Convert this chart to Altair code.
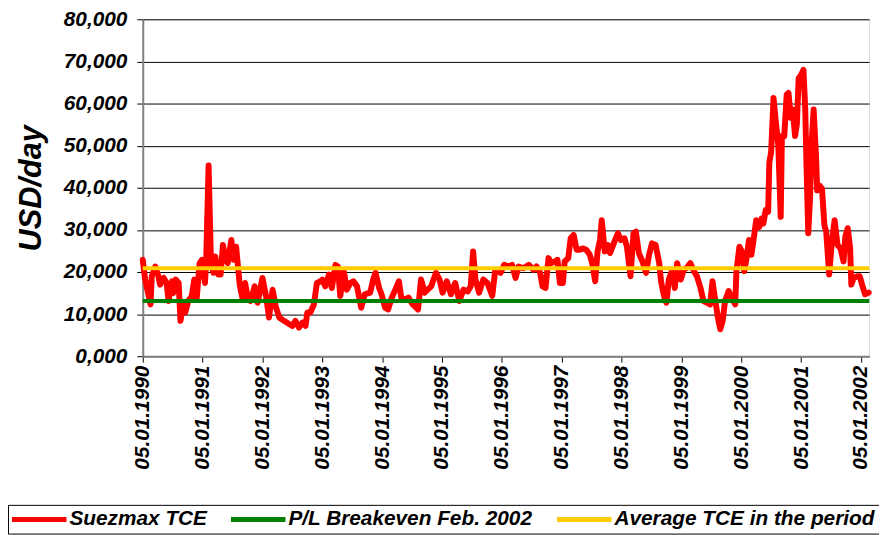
import altair as alt
import pandas as pd

# ---- data (decimal year of point, USD/day) ----
tce_years = [
    1990.00, 1990.04, 1990.10, 1990.13, 1990.15, 1990.21, 1990.26, 1990.29, 1990.35, 1990.40,
    1990.43, 1990.49, 1990.51, 1990.55, 1990.60, 1990.63, 1990.68, 1990.71, 1990.76, 1990.82,
    1990.86, 1990.90, 1990.95, 1990.99, 1991.04, 1991.06, 1991.10, 1991.14, 1991.18, 1991.21,
    1991.26, 1991.30, 1991.34, 1991.38, 1991.42, 1991.48, 1991.52, 1991.56, 1991.62, 1991.67,
    1991.71, 1991.75, 1991.80, 1991.87, 1991.92, 1992.00, 1992.06, 1992.11, 1992.17, 1992.22,
    1992.28, 1992.36, 1992.45, 1992.50, 1992.55, 1992.61, 1992.67, 1992.72, 1992.75, 1992.80,
    1992.86, 1992.91, 1992.97,
    1993.00, 1993.05, 1993.11, 1993.16, 1993.22, 1993.26, 1993.30, 1993.36, 1993.41, 1993.47,
    1993.52, 1993.58, 1993.65, 1993.71, 1993.80, 1993.85, 1993.89, 1993.95, 1993.99, 1994.05,
    1994.10, 1994.16, 1994.22, 1994.28, 1994.32, 1994.38, 1994.44, 1994.51, 1994.60, 1994.65,
    1994.71, 1994.76, 1994.82, 1994.90, 1994.96, 1995.01, 1995.08, 1995.15, 1995.22, 1995.29,
    1995.36, 1995.43, 1995.48, 1995.52, 1995.56, 1995.62, 1995.69, 1995.76, 1995.84, 1995.89,
    1995.98, 1996.04, 1996.11,
    1996.17, 1996.23, 1996.28, 1996.36, 1996.45, 1996.53, 1996.58, 1996.64, 1996.68, 1996.73,
    1996.78, 1996.83, 1996.89, 1996.93, 1996.97, 1997.02, 1997.05, 1997.11, 1997.15, 1997.20,
    1997.25, 1997.30, 1997.36, 1997.41, 1997.47, 1997.51, 1997.56, 1997.60, 1997.64, 1997.67,
    1997.72, 1997.77, 1997.81, 1997.87, 1997.94, 1997.99, 1998.05, 1998.09, 1998.15, 1998.20,
    1998.24, 1998.29, 1998.35, 1998.41, 1998.46, 1998.51, 1998.57, 1998.63, 1998.66, 1998.71,
    1998.75, 1998.79, 1998.85, 1998.89, 1998.93, 1998.99, 1999.04,
    1999.09, 1999.15, 1999.21, 1999.26, 1999.32, 1999.37, 1999.43, 1999.48, 1999.52, 1999.56,
    1999.61, 1999.65, 1999.69, 1999.73, 1999.79, 1999.84, 1999.90, 1999.92, 1999.97, 2000.01,
    2000.05, 2000.09, 2000.13, 2000.17, 2000.21, 2000.25, 2000.30, 2000.34, 2000.37, 2000.41,
    2000.45, 2000.47, 2000.50, 2000.54, 2000.58, 2000.62, 2000.66, 2000.68, 2000.72, 2000.76,
    2000.79, 2000.83, 2000.86, 2000.90, 2000.93, 2000.96, 2001.00, 2001.04, 2001.07, 2001.09,
    2001.12, 2001.15, 2001.18, 2001.21, 2001.25, 2001.27, 2001.31, 2001.35, 2001.39, 2001.42,
    2001.47, 2001.51, 2001.56, 2001.61, 2001.66, 2001.71, 2001.74, 2001.78, 2001.82, 2001.84,
    2001.88, 2001.94, 2001.98, 2002.02, 2002.07, 2002.13,
]
tce_values = [
    22900, 18200, 14300, 12300, 19000, 21300, 19000, 17000, 18600, 17400,
    13100, 17800, 15000, 18200, 17400, 8400, 12700, 10400, 13100, 14300,
    18200, 13500, 22100, 22900, 17400, 22900, 45300, 22100, 19800, 23700,
    19400, 19400, 26400, 22900, 22100, 27600, 22900, 26000, 17000, 13500,
    17400, 14300, 13100, 16600, 12700, 18600, 14300, 9200, 15800, 11900,
    9200, 8400, 7600, 7200, 8400, 6800, 8000, 7200, 10400, 10400,
    12300, 17400, 17800,
    18200, 16600, 19400, 16200, 21700, 21300, 14300, 20200, 15800, 17400,
    17800, 16600, 11500, 14700, 15100, 18200, 19800, 16200, 14700, 11500,
    11100, 13900, 15800, 17800, 13900, 13500, 13900, 12300, 11100, 18200,
    15100, 15800, 16600, 19800, 18200, 15100, 17800, 14700, 17400, 13100,
    15800, 15400, 16600, 24900, 18200, 15100, 18200, 17400, 14300, 20500,
    19800, 21700, 21300,
    21700, 18600, 21300, 20900, 21700, 20500, 21300, 19800, 16600, 16200,
    23300, 22100, 22500, 22900, 17400, 17400, 22500, 23300, 28000, 28800,
    25300, 25300, 25600, 25300, 24100, 22100, 17800, 24900, 27600, 32300,
    24900, 26400, 24500, 26800, 29200, 27600, 28000, 26000, 19000, 29200,
    29600, 24500, 22500, 19800, 24100, 26800, 26400, 22100, 17800, 14300,
    12700, 18200, 20500, 16200, 22100, 18200, 20500,
    21000, 22100, 20200, 19000, 16200, 13100, 12700, 12300, 17800, 13900,
    9200, 6400, 8400, 13100, 15500, 13900, 12300, 20200, 26000, 24900,
    20200, 23300, 27600, 24100, 28000, 32300, 30700, 32700, 31500, 34700,
    34300, 46000, 48400, 61300, 55500, 50000, 33100, 52300, 52300, 62100,
    62500, 56600, 58600, 52300, 55100, 66000, 66800, 68000, 58600, 46000,
    29200, 37400, 51500, 58600, 47600, 39400, 40500, 39800, 31100, 29600,
    19400, 26400, 32300, 26400, 25600, 22500, 28400, 30400, 25600, 17000,
    18600, 19000, 19000, 17000, 14700, 15100,
]
breakeven_value = 13100
average_value = 20900

series_names = ["Suezmax TCE", "P/L Breakeven Feb. 2002", "Average TCE in the period"]
series_colors = ["#FF0000", "#008000", "#FFCC00"]
tick_years = list(range(1990, 2003))
y_ticks = list(range(0, 80001, 10000))

base = pd.Timestamp("1990-01-05")


def to_date(y):
    return (base + pd.Timedelta(days=(y - 1990.0) * 365.25)).strftime("%Y-%m-%dT%H:%M:%S")


tce_df = pd.DataFrame({
    "date": [to_date(y) for y in tce_years],
    "value": tce_values,
    "series": series_names[0],
})
flat_df = pd.DataFrame({
    "date": [to_date(1990.0), to_date(2002.14), to_date(1990.0), to_date(2002.14)],
    "value": [breakeven_value, breakeven_value, average_value, average_value],
    "series": [series_names[1], series_names[1], series_names[2], series_names[2]],
})

FONT = "Liberation Sans"

x_enc = alt.X(
    "date:T",
    scale=alt.Scale(
        domain=[alt.DateTime(year=1990, month=1, date=5), alt.DateTime(year=2002, month=2, date=24)],
        nice=False,
    ),
    axis=alt.Axis(
        values=[alt.DateTime(year=y, month=1, date=5) for y in tick_years],
        format="%d.%m.%Y",
        labelAngle=270,
        labelFont=FONT,
        labelFontSize=21,
        labelFontWeight="bold",
        labelFontStyle="italic",
        labelColor="black",
        labelPadding=3,
        tickSize=6,
        tickColor="#000000",
        domainColor="#808080",
        domainWidth=2,
        grid=False,
        title=None,
        labelOverlap=False,
    ),
)
y_enc = alt.Y(
    "value:Q",
    scale=alt.Scale(domain=[0, 80000], nice=False),
    axis=alt.Axis(
        values=y_ticks,
        labelExpr="replace(format(datum.value / 1000, '.3f'), '.', ',')",
        labelFont=FONT,
        labelFontSize=21,
        labelFontWeight="bold",
        labelFontStyle="italic",
        labelColor="black",
        labelPadding=10,
        tickSize=6,
        tickColor="#000000",
        domainColor="#808080",
        domainWidth=2,
        grid=True,
        gridColor="#000000",
        gridWidth=1,
        title="USD/day",
        titleFont=FONT,
        titleFontSize=31,
        titleFontWeight="bold",
        titleFontStyle="italic",
        titleColor="black",
        titlePadding=16,
    ),
)
color_enc = alt.Color(
    "series:N",
    scale=alt.Scale(domain=series_names, range=series_colors),
    sort=series_names,
    legend=alt.Legend(
        title=None,
        orient="none",
        direction="horizontal",
        legendX=-136,
        legendY=490,
        symbolType="M-5,0H5",
        symbolSize=121,
        symbolStrokeWidth=5,
        symbolOffset=17,
        labelFont=FONT,
        labelFontSize=21,
        labelFontWeight="bold",
        labelFontStyle="italic",
        labelColor="black",
        labelOffset=20,
        labelLimit=0,
        columnPadding=14,
        padding=4,
        strokeColor="#000000",
        fillColor="white",
    ),
)

tce_line = alt.Chart(tce_df).mark_line(
    strokeWidth=6, strokeJoin="round", strokeCap="round"
).encode(x=x_enc, y=y_enc, color=color_enc)

flat_lines = alt.Chart(flat_df).mark_line(strokeWidth=4).encode(
    x=x_enc, y=y_enc, color=color_enc, detail="series:N"
)

chart = alt.layer(tce_line, flat_lines).properties(
    width=733,
    height=340,
    autosize=alt.AutoSizeParams(type="none"),
    padding={"left": 136, "top": 9, "right": 10, "bottom": 178},
).configure_view(
    stroke="#808080", strokeWidth=2
).configure(
    background="white"
)

chart.save("out.html", embed_options={"renderer": "svg", "actions": False})
